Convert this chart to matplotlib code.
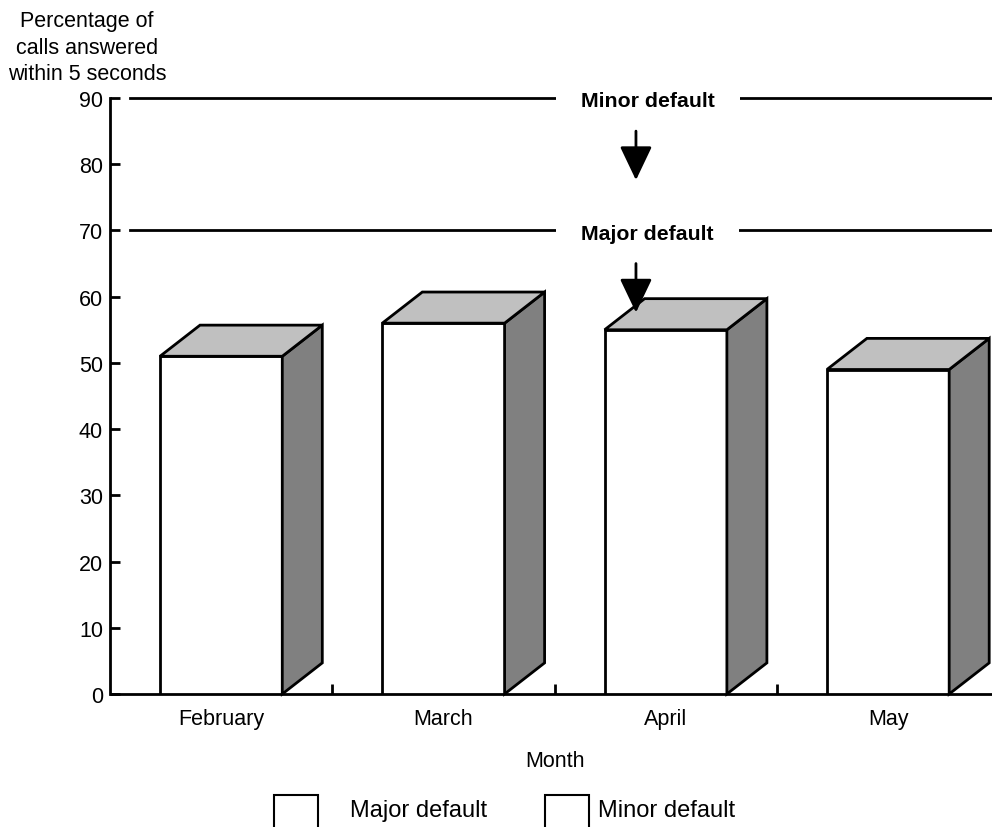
import matplotlib.pyplot as plt
from matplotlib.patches import Polygon, Rectangle

plt.rcParams['font.family'] = ['Liberation Sans', 'DejaVu Sans']

months = ['February', 'March', 'April', 'May']
pct_answered = [51, 56, 55, 49]
thresholds = [90, 70]
threshold_names = ['Minor default', 'Major default']
legend_labels = ['Major default', 'Minor default']

fig = plt.figure(figsize=(9.92, 8.28), dpi=100)
ax = fig.add_axes([110/992, 133/828, 889.2/992, 596/828])

# 3d-looking bars: front face via bar(), top and side as polygons
w, dx, dy = 0.55, 0.18, 4.7
xs = [i + 0.5 for i in range(len(months))]
ax.bar(xs, pct_answered, width=w, color='white', edgecolor='black', lw=2, zorder=3)
for x, v in zip(xs, pct_answered):
    x0, x1 = x - w/2, x + w/2
    top = Polygon([(x0, v), (x0+dx, v+dy), (x1+dx, v+dy), (x1, v)],
                  closed=True, fc='#c0c0c0', ec='black', lw=2, zorder=3, joinstyle='miter')
    side = Polygon([(x1, 0), (x1+dx, dy), (x1+dx, v+dy), (x1, v)],
                   closed=True, fc='#808080', ec='black', lw=2, zorder=3, joinstyle='miter', clip_on=False)
    ax.add_patch(side)
    ax.add_patch(top)

# threshold lines with labels and arrows
for y, name in zip(thresholds, threshold_names):
    ax.plot([0.09, 4.2], [y, y], color='black', lw=2, clip_on=False, zorder=2)
    ax.text(2.418, y - 0.45, name, ha='center', va='center', fontsize=15.3, fontweight='bold',
            bbox=dict(fc='white', ec='none', pad=18), zorder=4)
    ax.annotate('', xy=(2.366, y - 12.4), xytext=(2.366, y - 5.0),
                arrowprops=dict(arrowstyle='-|>,head_length=1.05,head_width=0.5',
                                mutation_scale=20, lw=2, color='black',
                                shrinkA=0, shrinkB=0), zorder=5)

ax.set_xlim(0, 4)
ax.set_ylim(0, 90)
ax.set_yticks(range(0, 91, 10))
ax.set_xticks([1, 2, 3, 4])
ax.set_xticklabels([])
ax.set_xticks(xs, minor=True)
ax.set_xticklabels(months, minor=True)
ax.tick_params(axis='y', direction='in', length=7, width=2, labelsize=15.5, pad=5)
ax.tick_params(axis='x', which='major', direction='in', length=7, width=2)
ax.tick_params(axis='x', which='minor', length=0, labelsize=15.5, pad=10)
for s in ['top', 'right']:
    ax.spines[s].set_visible(False)
for s in ['left', 'bottom']:
    ax.spines[s].set_linewidth(2)
ax.spines['bottom'].set_capstyle('butt')

ax.set_xlabel('Month', fontsize=15.5, labelpad=15)
fig.text(87/992, 1 - 48/828, 'Percentage of\ncalls answered\nwithin 5 seconds',
         ha='center', va='center', fontsize=15.5, linespacing=1.32)

# legend drawn by hand at the bottom
box_x = [274, 545]
text_x = [350, 598]
for bx, tx, lab in zip(box_x, text_x, legend_labels):
    fig.patches.append(Rectangle((bx/992, (828-840)/828), 44/992, 44/828,
                                 transform=fig.transFigure, fc='white', ec='black', lw=1.5))
    fig.text(tx/992, 1 - 811/828, lab, ha='left', va='center', fontsize=17)

fig.savefig('out.png', dpi=100)
